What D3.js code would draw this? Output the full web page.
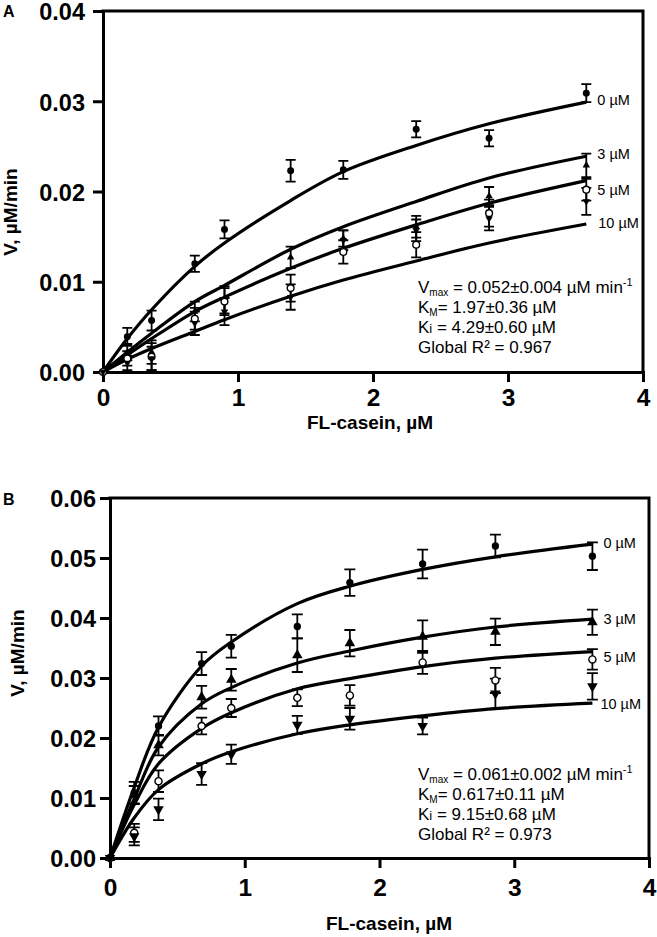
<!DOCTYPE html>
<html><head><meta charset="utf-8">
<script src="https://cdn.jsdelivr.net/npm/d3@7"></script>
<style>body{margin:0;background:#fff} svg{display:block} text{font-family:"Liberation Sans",Arial,Helvetica,sans-serif}</style>
</head><body><svg id="c" width="657" height="937"></svg>
<script>
// ---------------- data ----------------
const substrate = [0, 0.18, 0.36, 0.68, 0.9, 1.39, 1.78, 2.32, 2.86, 3.58];
const inhibitorLabels = ["0 µM", "3 µM", "5 µM", "10 µM"];
const xTicks = [0, 1, 2, 3, 4];
const yTicksA = [0, 0.01, 0.02, 0.03, 0.04];
const yTicksB = [0, 0.01, 0.02, 0.03, 0.04, 0.05, 0.06];

// Panel A: measured rates (mean, SD) per inhibitor concentration
const meanA0  = [0, 0.0039, 0.0057, 0.0120, 0.0158, 0.0223, 0.0224, 0.0269, 0.0259, 0.0309];
const errA0   = [0, 0.0010, 0.0011, 0.0009, 0.0010, 0.0012, 0.0010, 0.0009, 0.0009, 0.0010];
const meanA3  = [0, 0.0022, 0.0022, 0.0067, 0.0080, 0.0127, 0.0148, 0.0161, 0.0195, 0.0229];
const errA3   = [0, 0.0009, 0.0013, 0.0011, 0.0015, 0.0012, 0.0009, 0.0012, 0.0010, 0.0013];
const meanA5  = [0, 0.0015, 0.0017, 0.0059, 0.0078, 0.0093, 0.0133, 0.0141, 0.0176, 0.0202];
const errA5   = [0, 0.0008, 0.0015, 0.0012, 0.0015, 0.0015, 0.0013, 0.0014, 0.0015, 0.0012];
const meanA10 = [0, 0.0010, 0.0015, 0.0054, 0.0067, 0.0083, 0.0146, 0.0157, 0.0170, 0.0189];
const errA10  = [0, 0.0008, 0.0013, 0.0013, 0.0015, 0.0014, 0.0011, 0.0012, 0.0013, 0.0015];
// Panel A: fitted curves read at the same substrate values
const fitA0  = [0, 0.0037, 0.0069, 0.0117, 0.0143, 0.0190, 0.0222, 0.0251, 0.0275, 0.0299];
const fitA3  = [0, 0.0022, 0.0043, 0.0078, 0.0096, 0.0136, 0.0161, 0.0189, 0.0215, 0.0239];
const fitA5  = [0, 0.0019, 0.0037, 0.0067, 0.0083, 0.0115, 0.0137, 0.0163, 0.0187, 0.0212];
const fitA10 = [0, 0.0014, 0.0026, 0.0045, 0.0058, 0.0084, 0.0102, 0.0123, 0.0143, 0.0164];

// Panel B
const meanB0  = [0, 0.0109, 0.0220, 0.0324, 0.0353, 0.0386, 0.0459, 0.0490, 0.0520, 0.0503];
const errB0   = [0, 0.0018, 0.0016, 0.0019, 0.0019, 0.0020, 0.0022, 0.0024, 0.0019, 0.0023];
const meanB3  = [0, 0.0105, 0.0188, 0.0268, 0.0297, 0.0338, 0.0358, 0.0369, 0.0377, 0.0393];
const errB3   = [0, 0.0015, 0.0017, 0.0019, 0.0018, 0.0028, 0.0022, 0.0027, 0.0022, 0.0021];
const meanB5  = [0, 0.0042, 0.0128, 0.0220, 0.0250, 0.0267, 0.0271, 0.0326, 0.0296, 0.0331];
const errB5   = [0, 0.0015, 0.0018, 0.0014, 0.0015, 0.0014, 0.0017, 0.0019, 0.0021, 0.0017];
const meanB10 = [0, 0.0036, 0.0081, 0.0140, 0.0173, 0.0222, 0.0232, 0.0220, 0.0274, 0.0286];
const errB10  = [0, 0.0015, 0.0018, 0.0018, 0.0016, 0.0015, 0.0018, 0.0014, 0.0025, 0.0022];
const fitB0  = [0, 0.0118, 0.0218, 0.0320, 0.0360, 0.0424, 0.0453, 0.0481, 0.0502, 0.0523];
const fitB3  = [0, 0.0099, 0.0185, 0.0257, 0.0284, 0.0325, 0.0345, 0.0368, 0.0385, 0.0398];
const fitB5  = [0, 0.0089, 0.0157, 0.0216, 0.0242, 0.0282, 0.0299, 0.0319, 0.0333, 0.0344];
const fitB10 = [0, 0.0067, 0.0114, 0.0157, 0.0177, 0.0207, 0.0222, 0.0237, 0.0249, 0.0258];

// fitted parameters (annotation text)
const statsA = ["0.052±0.004", "1.97±0.36", "4.29±0.60", "0.967"];
const statsB = ["0.061±0.002", "0.617±0.11", "9.15±0.68", "0.973"];

// ---------------- drawing ----------------
const svg = d3.select("#c");
const FONT = '"Liberation Sans",Arial,Helvetica,sans-serif';

function marker(g, type, sz) {
  if (type === 0) {
    g.append("path").attr("d", d3.symbol(d3.symbolCircle, sz.circle)()).attr("fill", "#000");
  } else if (type === 1) {
    g.append("path").attr("d", d3.symbol(d3.symbolTriangle, sz.tri)()).attr("fill", "#000");
  } else if (type === 2) {
    g.append("path").attr("d", d3.symbol(d3.symbolCircle, sz.open)()).attr("fill", "#fff").attr("stroke", "#000").attr("stroke-width", 1.4);
  } else {
    g.append("path").attr("d", d3.symbol(d3.symbolTriangle, sz.tri)()).attr("fill", "#000").attr("transform", "rotate(180)");
  }
}

function panel(o) {
  const g = svg.append("g");
  const x = d3.scaleLinear().domain([0, 4]).range([o.left, o.right]);
  const y = d3.scaleLinear().domain([0, o.ymax]).range([o.bottom, o.top]);

  // frame (top and right)
  g.append("path")
    .attr("d", `M${x(0)},${y(o.ymax)}H${x(4)}V${y(0)}`)
    .attr("fill", "none").attr("stroke", "#000").attr("stroke-width", 3).attr("stroke-linecap", "square");

  const yAxis = g.append("g").attr("transform", `translate(${x(0)},0)`)
    .call(d3.axisLeft(y).tickValues(o.yTicks).tickFormat(d3.format(".2f")).tickSize(10).tickSizeOuter(0).tickPadding(o.yPad));
  const xAxis = g.append("g").attr("transform", `translate(0,${y(0)})`)
    .call(d3.axisBottom(x).tickValues(xTicks).tickFormat(d3.format("d")).tickSize(10).tickSizeOuter(0).tickPadding(o.xPad));
  [yAxis, xAxis].forEach(a => {
    a.select(".domain").attr("stroke-width", 3).attr("stroke-linecap", "square");
    a.selectAll(".tick line").attr("stroke-width", 3);
    a.selectAll(".tick text").attr("font-family", FONT).attr("font-weight", "bold").attr("fill", "#000");
  });
  yAxis.selectAll(".tick text").attr("font-size", o.yFont).attr("dy", "0.38em");
  xAxis.selectAll(".tick text").attr("font-size", o.xFont);

  // axis titles
  g.append("text").attr("x", o.xTitleX).attr("y", o.xTitleY).attr("text-anchor", "middle")
    .attr("font-size", 19).attr("font-weight", "bold").text("FL-casein, µM");
  g.append("text").attr("transform", `translate(${o.yTitleX},${o.yTitleY}) rotate(-90)`).attr("text-anchor", "middle")
    .attr("font-size", 19).attr("font-weight", "bold").text("V, µM/min");
  g.append("text").attr("x", 3).attr("y", o.letterY).attr("font-size", 16).attr("font-weight", "bold").text(o.letter);

  const line = d3.line().x(d => x(d[0])).y(d => y(d[1])).curve(d3.curveCatmullRom.alpha(0.5));

  o.series.forEach((s, i) => {
    const pts = substrate.map((sv, k) => ({ s: sv, v: s.mean[k], e: s.err[k] }));
    const eb = g.append("g").attr("stroke", "#000").attr("stroke-width", 1.8).attr("fill", "none");
    pts.filter(p => p.e > 0).forEach(p => {
      const cx = x(p.s), y1 = y(p.v - p.e), y2 = y(p.v + p.e), c = o.cap;
      eb.append("path").attr("d", `M${cx},${y1}V${y2}M${cx - c},${y1}H${cx + c}M${cx - c},${y2}H${cx + c}`);
    });
  });
  o.series.forEach((s, i) => {
    const fitPts = substrate.map((sv, k) => [sv, s.fit[k]]);
    g.append("path").attr("d", line(fitPts)).attr("fill", "none").attr("stroke", "#000").attr("stroke-width", 3.2);
    const last = fitPts[fitPts.length - 1];
    g.append("text").attr("x", x(last[0]) + o.labDx[i]).attr("y", y(last[1]) + o.labDy[i]).attr("dy", "0.35em")
      .attr("font-size", 14.5).text(inhibitorLabels[i]);
  });
  o.series.forEach((s, i) => {
    substrate.forEach((sv, k) => {
      const mg = g.append("g").attr("transform", `translate(${x(sv)},${y(s.mean[k])})`);
      marker(mg, i, o.sym);
    });
  });

  // annotation (one text element per line)
  const fs = 17;
  const l1 = g.append("text").attr("x", o.annX).attr("y", o.annY).attr("font-size", fs);
  l1.append("tspan").text("V");
  l1.append("tspan").attr("font-size", 10).attr("dy", 3).text("max");
  l1.append("tspan").attr("dy", -3).text(" = " + o.stats[0] + " µM min");
  l1.append("tspan").attr("font-size", 11).attr("dy", -7).text("-1");
  const l2 = g.append("text").attr("x", o.annX).attr("y", o.annY + 19.5).attr("font-size", fs);
  l2.append("tspan").text("K");
  l2.append("tspan").attr("font-size", 10).attr("dy", 3).text("M");
  l2.append("tspan").attr("dy", -3).text("= " + o.stats[1] + " µM");
  const l3 = g.append("text").attr("x", o.annX).attr("y", o.annY + 40).attr("font-size", fs);
  l3.append("tspan").text("K");
  l3.append("tspan").attr("font-size", 13).text("i");
  l3.append("tspan").text(" = " + o.stats[2] + " µM");
  g.append("text").attr("x", o.annX).attr("y", o.annY + 60).attr("font-size", fs)
    .text("Global R² = " + o.stats[3]);
}

panel({
  left: 103, right: 643, top: 11, bottom: 372, ymax: 0.04, yTicks: yTicksA,
  yPad: 8, xPad: 7, yFont: 23.5, xFont: 24.5,
  xTitleX: 370, xTitleY: 429, yTitleX: 17, yTitleY: 212, letter: "A", letterY: 17,
  cap: 5, sym: { circle: 38, open: 36, tri: 24 },
  labDx: [11, 11, 11, 12], labDy: [-2, -2, 9, -1],
  annX: 418, annY: 293, stats: statsA,
  series: [
    { mean: meanA0, err: errA0, fit: fitA0 },
    { mean: meanA3, err: errA3, fit: fitA3 },
    { mean: meanA5, err: errA5, fit: fitA5 },
    { mean: meanA10, err: errA10, fit: fitA10 }
  ]
});
panel({
  left: 110, right: 649, top: 498, bottom: 858, ymax: 0.06, yTicks: yTicksB,
  yPad: 4, xPad: 11, yFont: 23.5, xFont: 24.5,
  xTitleX: 389, xTitleY: 930, yTitleX: 24, yTitleY: 653, letter: "B", letterY: 505,
  cap: 5.5, sym: { circle: 42, open: 40, tri: 48 },
  labDx: [11, 11, 11, 8], labDy: [-1, 0, 5, 1],
  annX: 418, annY: 780, stats: statsB,
  series: [
    { mean: meanB0, err: errB0, fit: fitB0 },
    { mean: meanB3, err: errB3, fit: fitB3 },
    { mean: meanB5, err: errB5, fit: fitB5 },
    { mean: meanB10, err: errB10, fit: fitB10 }
  ]
});
</script>
</body></html>
